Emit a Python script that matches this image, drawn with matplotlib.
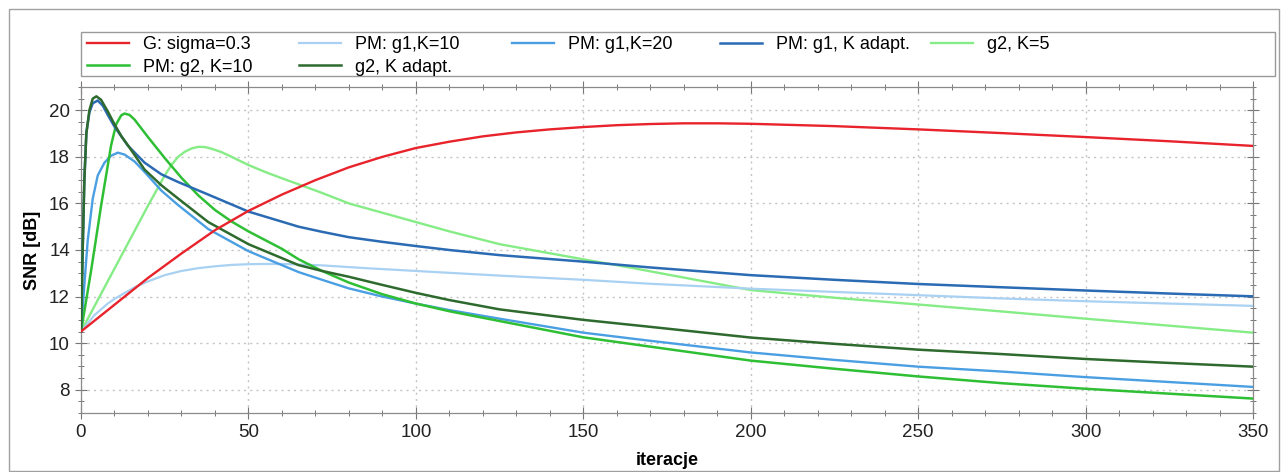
import matplotlib
matplotlib.use("Agg")
import matplotlib.pyplot as plt
from matplotlib.patches import Rectangle
from matplotlib.ticker import MultipleLocator

plt.rcParams['font.family'] = ['Liberation Sans', 'DejaVu Sans']

# --- Values (iteration -> SNR [dB]) ---
g_x = [0, 10, 20, 30, 40, 50, 60, 70, 80, 90, 100, 110, 120, 130, 140, 150, 160, 170, 180, 190, 200, 225, 250, 275, 300, 325, 350]
g_y = [10.5, 11.65, 12.8, 13.85, 14.85, 15.68, 16.38, 17.0, 17.55, 18.0, 18.38, 18.65, 18.88, 19.05, 19.18, 19.28, 19.36, 19.41, 19.44, 19.44, 19.42, 19.32, 19.18, 19.02, 18.85, 18.67, 18.47]

pm1_k10_x = [0, 2, 4, 6, 8, 10, 13, 16, 20, 25, 30, 35, 40, 45, 50, 55, 60, 65, 72, 85, 100, 110, 125, 150, 170, 200, 225, 250, 275, 300, 325, 350]
pm1_k10_y = [10.5, 10.85, 11.2, 11.45, 11.7, 11.9, 12.15, 12.4, 12.65, 12.92, 13.1, 13.22, 13.3, 13.36, 13.39, 13.4, 13.4, 13.38, 13.34, 13.22, 13.1, 13.02, 12.9, 12.72, 12.55, 12.34, 12.2, 12.06, 11.92, 11.8, 11.7, 11.6]

pm1_k20_x = [0, 1, 2, 3.5, 5, 7, 9, 11, 13, 16, 19, 24, 29, 38, 50, 65, 72, 80, 90, 100, 110, 125, 150, 170, 200, 225, 250, 275, 300, 325, 350]
pm1_k20_y = [10.5, 12.5, 14.4, 16.2, 17.2, 17.75, 18.05, 18.18, 18.1, 17.8, 17.35, 16.55, 15.93, 14.9, 13.95, 13.05, 12.72, 12.35, 12.0, 11.7, 11.42, 11.05, 10.45, 10.1, 9.6, 9.28, 8.99, 8.78, 8.54, 8.33, 8.12]

pm1_ka_x = [0, 0.5, 1, 1.6, 2.5, 3.5, 5, 6.5, 8, 10, 14, 19, 24, 29, 38, 50, 65, 72, 80, 90, 100, 110, 125, 150, 170, 200, 225, 250, 275, 300, 325, 350]
pm1_ka_y = [10.5, 14.0, 17.0, 19.05, 19.9, 20.3, 20.42, 20.2, 19.8, 19.3, 18.48, 17.75, 17.25, 16.92, 16.38, 15.65, 15.0, 14.78, 14.55, 14.35, 14.17, 14.0, 13.78, 13.5, 13.25, 12.92, 12.72, 12.54, 12.4, 12.26, 12.13, 12.01]

g2_k5_x = [0, 5, 10, 15, 20, 25, 27, 29, 31, 33, 35, 37, 39, 42, 45, 50, 55, 60, 65, 72, 80, 90, 100, 110, 125, 150, 165, 175, 200, 225, 250, 275, 300, 325, 350]
g2_k5_y = [10.5, 11.85, 13.2, 14.55, 15.9, 17.2, 17.65, 18.0, 18.22, 18.36, 18.43, 18.42, 18.35, 18.2, 18.0, 17.65, 17.35, 17.08, 16.82, 16.45, 16.0, 15.6, 15.2, 14.8, 14.25, 13.6, 13.22, 12.95, 12.28, 11.95, 11.66, 11.36, 11.05, 10.75, 10.45]

pm2_k10_x = [0, 3, 6, 9, 10.5, 12, 13, 14.5, 16, 20, 25, 30, 35, 40, 45, 50, 60, 65, 72, 80, 90, 100, 110, 125, 150, 170, 200, 225, 250, 275, 300, 325, 350]
pm2_k10_y = [10.5, 13.1, 15.9, 18.5, 19.4, 19.78, 19.86, 19.8, 19.6, 18.85, 17.95, 17.1, 16.35, 15.72, 15.22, 14.8, 14.05, 13.6, 13.1, 12.6, 12.1, 11.7, 11.37, 10.95, 10.25, 9.85, 9.25, 8.9, 8.57, 8.28, 8.04, 7.83, 7.62]

g2_ka_x = [0, 0.5, 1, 1.6, 2.5, 3.5, 4.6, 6, 8, 10, 12, 14, 19, 24, 29, 38, 50, 65, 72, 80, 90, 100, 110, 125, 150, 170, 200, 225, 250, 275, 300, 325, 350]
g2_ka_y = [10.5, 14.0, 17.0, 19.0, 20.0, 20.5, 20.6, 20.45, 19.95, 19.4, 18.9, 18.5, 17.45, 16.78, 16.21, 15.2, 14.25, 13.35, 13.1, 12.85, 12.5, 12.16, 11.85, 11.45, 11.0, 10.7, 10.24, 9.97, 9.72, 9.53, 9.32, 9.15, 8.99]

x_ticks = [0, 50, 100, 150, 200, 250, 300, 350]
y_ticks = [8, 10, 12, 14, 16, 18, 20]

W, H = 1281, 472
fig = plt.figure(figsize=(W / 100, H / 100), dpi=100)
ax = fig.add_axes([81 / W, 1 - 413 / H, (1253 - 81) / W, (413 - 87) / H])

# (label, x, y, colour, width)
series = [
    ("G: sigma=0.3", g_x, g_y, "#e8232b", 1.7),
    ("PM: g1,K=10", pm1_k10_x, pm1_k10_y, "#a9d1f2", 1.6),
    ("PM: g1,K=20", pm1_k20_x, pm1_k20_y, "#4a9fe3", 1.7),
    ("PM: g1, K adapt.", pm1_ka_x, pm1_ka_y, "#2b6bb3", 1.8),
    ("g2, K=5", g2_k5_x, g2_k5_y, "#86ec86", 1.7),
    ("PM: g2, K=10", pm2_k10_x, pm2_k10_y, "#2fbf35", 1.8),
    ("g2, K adapt.", g2_ka_x, g2_ka_y, "#2e6a2e", 1.8),
]
zorders = [8, 3, 4, 6, 2, 5, 7]

lines = {}
for (label, xs, ys, col, lw), z in zip(series, zorders):
    lines[label], = ax.plot(xs, ys, color=col, lw=lw, label=label, zorder=z)

ax.set_xlim(0, 350)
ax.set_ylim(7, 21)
ax.set_xticks(x_ticks)
ax.set_yticks(y_ticks)
ax.xaxis.set_minor_locator(MultipleLocator(10))
ax.yaxis.set_minor_locator(MultipleLocator(0.5))
ax.tick_params(which='both', direction='inout', top=True, right=True,
               color='#777777', labelsize=13.5, labelcolor='#222222')
ax.tick_params(which='major', length=9, width=0.8)
ax.tick_params(which='minor', length=5, width=0.7)
ax.grid(True, which='major', linestyle=(0, (1.5, 3)), color='#c4c4c4', lw=1.0)
for sp in ax.spines.values():
    sp.set_color('#8a8a8a')
    sp.set_linewidth(0.9)

ax.set_xlabel("iteracje", fontsize=13, fontweight='bold', labelpad=8)
ax.set_ylabel("SNR [dB]", fontsize=13, fontweight='bold', labelpad=6)

# legend: one small legend per column, fixed column pitch like the reference
columns = [["G: sigma=0.3", "PM: g2, K=10"], ["PM: g1,K=10", "g2, K adapt."],
           ["PM: g1,K=20"], ["PM: g1, K adapt."], ["g2, K=5"]]
col_px = [87, 299, 512, 720, 931]
for labels, cx in zip(columns, col_px):
    fig.legend([lines[k] for k in labels], labels, loc='upper left',
               bbox_to_anchor=(cx / W, 1 - 36 / H), frameon=False,
               fontsize=13, handlelength=2.3, handletextpad=0.8,
               labelspacing=0.32, borderpad=0.0, borderaxespad=0.0)

# legend frame and outer border
fig.patches.append(Rectangle((81 / W, 1 - 76 / H), (1275 - 81) / W, 44 / H,
                             transform=fig.transFigure, fill=False,
                             edgecolor='#9a9a9a', lw=1.0))
fig.patches.append(Rectangle((9 / W, 1 - 471 / H), (1279 - 9) / W, 462 / H,
                             transform=fig.transFigure, fill=False,
                             edgecolor='#a0a0a0', lw=1.0))

fig.savefig("out.png", dpi=100)
